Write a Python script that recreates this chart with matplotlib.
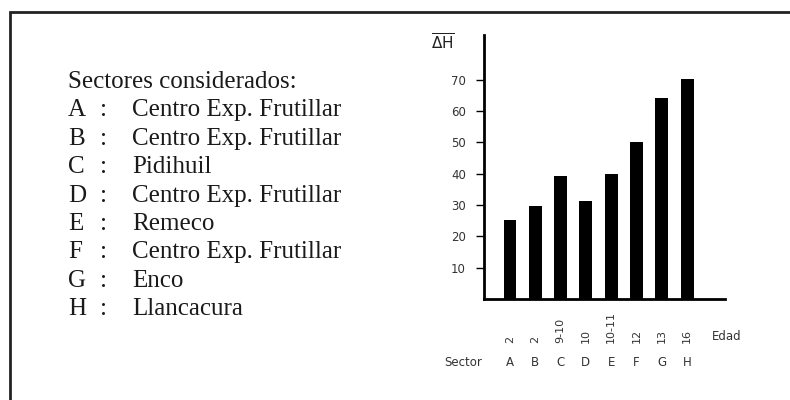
import matplotlib.pyplot as plt
import matplotlib.transforms as mtransforms
from matplotlib.patches import Rectangle

# datos
sectores = ["A", "B", "C", "D", "E", "F", "G", "H"]
edades = ["2", "2", "9-10", "10", "10-11", "12", "13", "16"]
delta_h = [25.3, 29.8, 39.4, 31.3, 40.0, 50.0, 64.3, 70.2]
nombres = ["Centro Exp. Frutillar", "Centro Exp. Frutillar", "Pidihuil",
           "Centro Exp. Frutillar", "Remeco", "Centro Exp. Frutillar",
           "Enco", "Llancacura"]
yticks = [10, 20, 30, 40, 50, 60, 70]

fig = plt.figure(figsize=(7.9, 4.0), dpi=100)
W, H = 790, 400

# marco exterior
fig.patches.append(Rectangle((10 / W, -0.1), 1.2, 1.1 - 12 / H, transform=fig.transFigure,
                             fill=False, lw=2, ec="#222222"))

# texto de la izquierda
serif = "Liberation Serif"
fs = 18
y0 = 1 - 88 / H
dy = 28.4 / H
fig.text(68 / W, y0, "Sectores considerados:", family=serif, fontsize=fs,
         va="baseline", color="#1a1a1a")
for i, (s, n) in enumerate(zip(sectores, nombres)):
    y = y0 - (i + 1) * dy
    fig.text(68 / W, y, s, family=serif, fontsize=fs, va="baseline", color="#1a1a1a")
    fig.text(100 / W, y, ":", family=serif, fontsize=fs, va="baseline", color="#1a1a1a")
    fig.text(132 / W, y, n, family=serif, fontsize=fs, va="baseline", color="#1a1a1a")

# grafico de barras
sans = "DejaVu Sans"
gris = "#333333"
ax = fig.add_axes([484 / W, 101 / H, 241 / W, 264 / H])
x = list(range(len(sectores)))
ax.bar(x, delta_h, width=0.51, color="black")
ax.set_xlim(-1.03, 8.5)
ax.set_ylim(0, 84.3)
ax.spines[["top", "right"]].set_visible(False)
ax.spines["left"].set_linewidth(2)
ax.spines["bottom"].set_linewidth(2)
ax.set_yticks(yticks)
ax.set_yticklabels([str(t) for t in yticks], family=sans, fontsize=8.5, color=gris)
ax.tick_params(axis="y", length=6, width=1, pad=7)
ax.set_xticks([])

trans = mtransforms.blended_transform_factory(ax.transData, ax.transAxes)
for xi, e, s in zip(x, edades, sectores):
    ax.text(xi, -44 / 264, e, rotation=90, ha="center", va="bottom", fontsize=8,
            family=sans, color=gris, transform=trans)
    ax.text(xi, -63 / 264, s, ha="center", va="center", fontsize=8.5,
            family=sans, color=gris, transform=trans)
ax.text(7.98, -38 / 264, "Edad", ha="left", va="center", fontsize=8.5,
        family=sans, color=gris, transform=trans)
ax.text(-1.1, -63 / 264, "Sector", ha="right", va="center", fontsize=8.5,
        family=sans, color=gris, transform=trans)

fig.text(443 / W, 1 - 43 / H, r"$\overline{\Delta \mathrm{H}}$", ha="center",
         va="center", fontsize=11, color="#222222")

fig.savefig("out.png", dpi=100)
